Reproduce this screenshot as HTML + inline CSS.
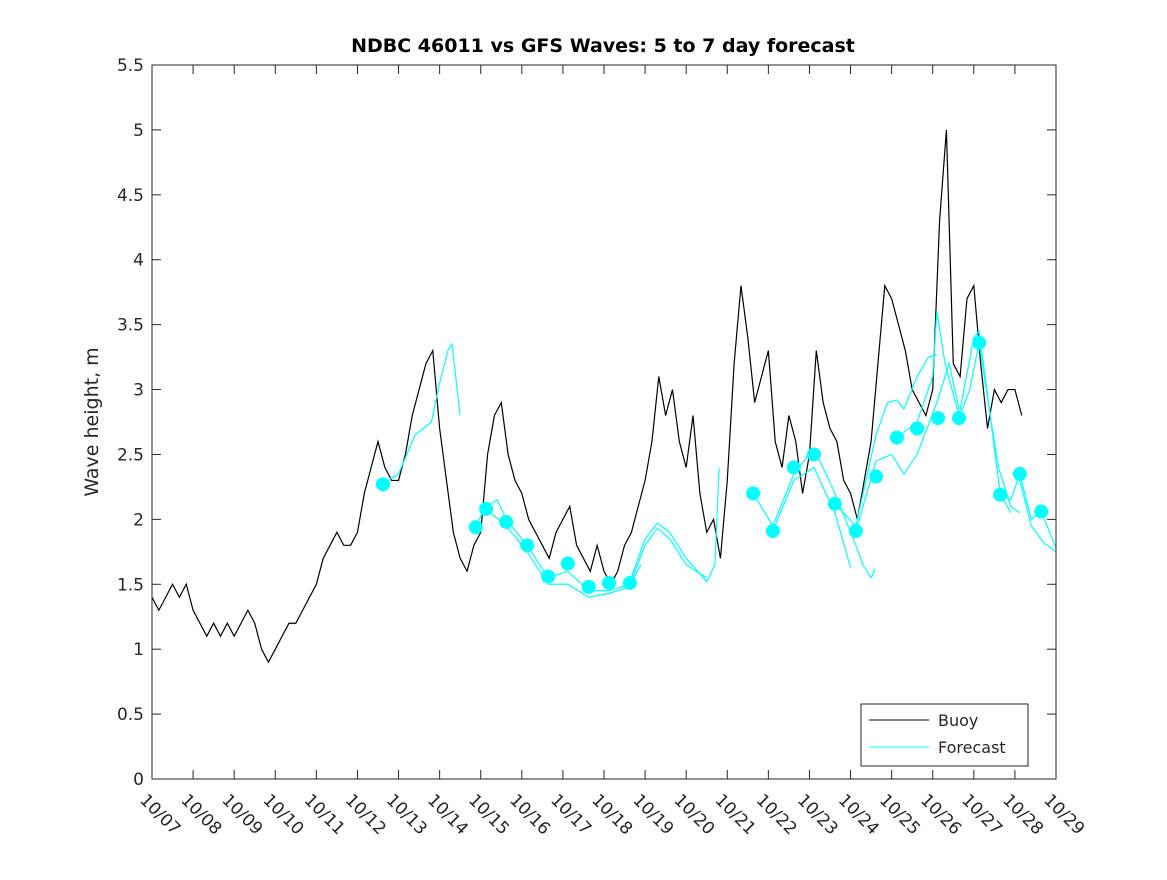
<!DOCTYPE html><html><head><meta charset="utf-8"><style>body{margin:0;background:#fff}svg{font-family:"DejaVu Sans","Liberation Sans",sans-serif}</style></head><body>
<svg id="chart" width="1167" height="875">
<rect x="0" y="0" width="1167" height="875" fill="#fff"/>
<text x="603" y="52" text-anchor="middle" font-size="19" font-weight="bold" fill="#000">NDBC 46011 vs GFS Waves: 5 to 7 day forecast</text>
<g id="grid"></g><g id="series"></g>
<rect x="152" y="65" width="904" height="714" fill="none" stroke="#262626" stroke-width="1"/>
<text transform="translate(98,422) rotate(-90)" text-anchor="middle" font-size="19" fill="#262626">Wave height, m</text>
<g>
<rect x="861" y="704" width="167" height="62" fill="#fff" stroke="#262626"/>
<line x1="869" y1="720" x2="929" y2="720" stroke="#000"/>
<text x="938" y="726" font-size="16" fill="#262626">Buoy</text>
<line x1="869" y1="747" x2="929" y2="747" stroke="#00ffff"/>
<text x="938" y="753" font-size="16" fill="#262626">Forecast</text>
</g>
</svg>
<script>
const yTicks=[0,0.5,1,1.5,2,2.5,3,3.5,4,4.5,5,5.5];
const yTickLabels=["0","0.5","1","1.5","2","2.5","3","3.5","4","4.5","5","5.5"];
const xTickLabels=["10/07","10/08","10/09","10/10","10/11","10/12","10/13","10/14","10/15","10/16","10/17","10/18","10/19","10/20","10/21","10/22","10/23","10/24","10/25","10/26","10/27","10/28","10/29"];
const buoyStep=1/6;
const buoy=[1.4,1.3,1.4,1.5,1.4,1.5, 1.3,1.2,1.1,1.2,1.1,1.2, 1.1,1.2,1.3,1.2,1.0,0.9, 1.0,1.1,1.2,1.2,1.3,1.4, 1.5,1.7,1.8,1.9,1.8,1.8, 1.9,2.2,2.4,2.6,2.4,2.3, 2.3,2.5,2.8,3.0,3.2,3.3, 2.7,2.3,1.9,1.7,1.6,1.8, 1.9,2.5,2.8,2.9,2.5,2.3, 2.2,2.0,1.9,1.8,1.7,1.9, 2.0,2.1,1.8,1.7,1.6,1.8, 1.6,1.5,1.6,1.8,1.9,2.1, 2.3,2.6,3.1,2.8,3.0,2.6, 2.4,2.8,2.2,1.9,2.0,1.7, 2.3,3.2,3.8,3.4,2.9,3.1, 3.3,2.6,2.4,2.8,2.6,2.2, 2.5,3.3,2.9,2.7,2.6,2.3, 2.2,2.0,2.3,2.6,3.2,3.8, 3.7,3.5,3.3,3.0,2.9,2.8, 3.0,4.3,5.0,3.2,3.1,3.7, 3.8,3.2,2.7,3.0,2.9,3.0, 3.0,2.8];
const fcDays=[[5.6,6.0,6.4,6.8,7.0,7.2,7.3,7.5],[7.88,8.13,8.4,8.62,9.13,9.64,10.12,10.63,11.12,11.63,11.9],[8.13,8.62,9.13,9.64,10.12,10.63,11.12,11.63],[11.63,12.0,12.3,12.6,13.0,13.5,13.7,13.8],[11.63,12.0,12.3,12.6,13.0,13.5],[14.63,15.11,15.62,16.11,16.62,17.13,17.3,17.5,17.6],[15.11,15.62,16.11,16.62,17.0],[16.62,17.13,17.62,17.9,18.13,18.3,18.62,18.9,19.1],[17.13,17.62,18.0,18.3,18.62,19.1,19.4,19.64],[18.13,18.62,19.0,19.1,19.3,19.64,20.0,20.13,20.4,20.64,20.9],[19.64,19.9,20.13,20.4,20.6,20.9,21.12],[20.64,20.9,21.12,21.4,21.64,22],[21.12,21.4,21.7,22]];
const fcVals=[[2.27,2.35,2.65,2.75,3.05,3.3,3.35,2.8],[1.95,2.1,2.15,2.0,1.8,1.55,1.6,1.45,1.45,1.5,1.65],[2.08,1.95,1.75,1.5,1.5,1.4,1.43,1.48],[1.52,1.85,1.97,1.9,1.7,1.52,1.65,2.4],[1.5,1.8,1.93,1.85,1.65,1.55],[2.2,1.95,2.35,2.55,2.2,1.8,1.65,1.55,1.62],[1.91,2.3,2.4,2.05,1.63],[2.12,1.95,2.65,2.9,2.92,2.85,3.1,3.25,3.27],[1.91,2.45,2.5,2.35,2.5,2.9,3.2,2.85],[2.63,2.75,3.1,3.6,3.2,2.8,3.4,3.45,2.8,2.2,2.05],[2.78,3.0,3.36,2.8,2.4,2.1,2.05],[2.19,2.15,2.35,2.0,2.06,1.78],[2.3,1.95,1.82,1.75]];
const dotDays=[5.62,7.88,8.13,8.62,9.13,9.64,10.12,10.63,11.12,11.63,14.63,15.11,15.62,16.11,16.62,17.13,17.62,18.13,18.62,19.13,19.64,20.13,20.64,21.12,21.64];
const dotVals=[2.27,1.94,2.08,1.98,1.8,1.56,1.66,1.48,1.51,1.51,2.2,1.91,2.4,2.5,2.12,1.91,2.33,2.63,2.7,2.78,2.78,3.36,2.19,2.35,2.06];
const L=152,R=1056,T=65,B=779;
const sx=d=>L+d*(R-L)/22, sy=v=>B-v*(B-T)/5.5;
const NS="http://www.w3.org/2000/svg";
const grid=document.getElementById('grid'), ser=document.getElementById('series');
function mk(t,a,p){const e=document.createElementNS(NS,t);for(const k in a)e.setAttribute(k,a[k]);p.appendChild(e);return e;}
yTicks.forEach((v,i)=>{const y=sy(v);
 let l=mk('line',{x1:L,x2:L+9,y1:y,y2:y,stroke:'#262626'},grid);
 let r=mk('line',{x1:R-9,x2:R,y1:y,y2:y,stroke:'#262626'},grid);
 let t=mk('text',{x:L-8,y:y+6,'text-anchor':'end','font-size':17,fill:'#262626'},grid);t.textContent=yTickLabels[i];
 });
xTickLabels.forEach((s,i)=>{const x=sx(i);
 let l=mk('line',{x1:x,x2:x,y1:B,y2:B-9,stroke:'#262626'},grid);
 let u=mk('line',{x1:x,x2:x,y1:T,y2:T+9,stroke:'#262626'},grid);
 let t=mk('text',{x:0,y:0,'font-size':17,fill:'#262626',transform:`translate(${x-13},${B+22}) rotate(45)`},grid);t.textContent=s;
 });
let bp=mk('polyline',{points:buoy.map((v,i)=>sx(i*buoyStep)+','+sy(v)).join(' '),fill:'none',stroke:'#000','stroke-width':1.2},ser);

fcDays.forEach((ds,j)=>{let p=mk('polyline',{points:ds.map((d,i)=>sx(Math.min(d,22))+','+sy(fcVals[j][i])).join(' '),fill:'none',stroke:'#00ffff','stroke-width':1.2},ser);
 });
dotDays.forEach((d,i)=>{let c=mk('ellipse',{cx:sx(d),cy:sy(dotVals[i]),rx:7,ry:7,fill:'#00ffff'},ser);
 });
</script></body></html>
